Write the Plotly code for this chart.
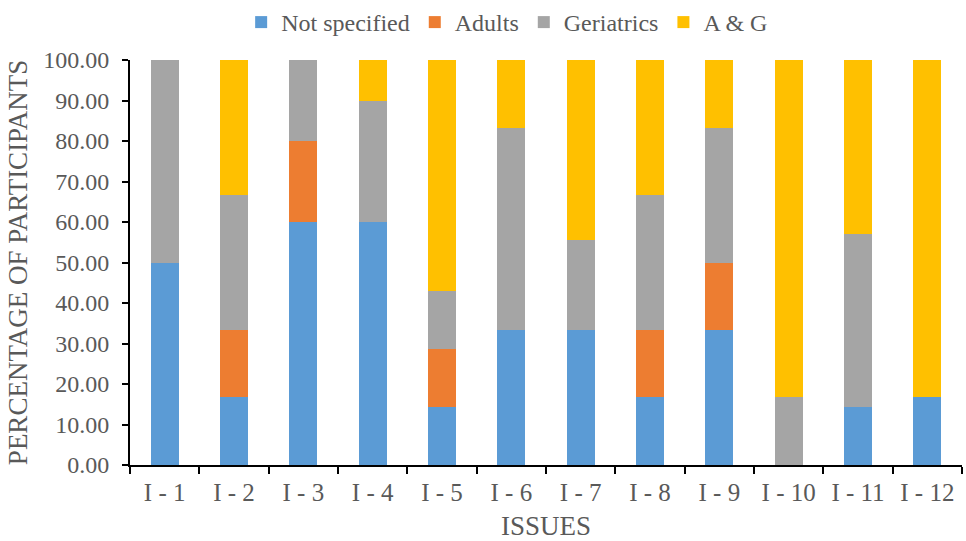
import plotly.graph_objects as go

categories = ["I - 1", "I - 2", "I - 3", "I - 4", "I - 5", "I - 6",
              "I - 7", "I - 8", "I - 9", "I - 10", "I - 11", "I - 12"]
not_specified = [50.00, 16.67, 60.00, 60.00, 14.29, 33.33, 33.33, 16.67, 33.33, 0.00, 14.29, 16.67]
adults = [0.00, 16.67, 20.00, 0.00, 14.29, 0.00, 0.00, 16.67, 16.67, 0.00, 0.00, 0.00]
geriatrics = [50.00, 33.33, 20.00, 30.00, 14.29, 50.00, 22.22, 33.33, 33.33, 16.67, 42.86, 0.00]
a_and_g = [0.00, 33.33, 0.00, 10.00, 57.14, 16.67, 44.44, 33.33, 16.67, 83.33, 42.86, 83.33]

series = [
    ("Not specified", not_specified, "#5B9BD5"),
    ("Adults", adults, "#ED7D31"),
    ("Geriatrics", geriatrics, "#A5A5A5"),
    ("A & G", a_and_g, "#FFC000"),
]

fig = go.Figure()
for name, vals, color in series:
    fig.add_trace(go.Bar(x=categories, y=vals, name=name, marker_color=color,
                         marker_line_width=0))

ff = "Liberation Serif"
txt = "#595959"
fig.update_layout(
    template="none",
    barmode="stack",
    bargap=0.6,
    width=966, height=541,
    margin=dict(l=130, r=4, t=60, b=76, autoexpand=False),
    paper_bgcolor="white", plot_bgcolor="white",
    font=dict(family=ff, color=txt, size=24),
    legend=dict(orientation="h", x=0.525, xref="container", xanchor="center",
                y=1.0, yref="container", yanchor="top",
                font=dict(family=ff, size=24, color=txt), itemwidth=30,
                traceorder="normal"),
    xaxis=dict(showline=True, linecolor="black", linewidth=2, ticks="outside",
               showgrid=False, zeroline=False,
               tickson="boundaries", ticklen=7, tickwidth=2, tickcolor="black",
               title=dict(text="ISSUES", font=dict(family=ff, size=27, color=txt), standoff=12),
               tickfont=dict(family=ff, size=25, color=txt), ticklabelstandoff=4),
    yaxis=dict(range=[0, 100], dtick=10, tickformat=".2f", showgrid=False, zeroline=False,
               showline=True, linecolor="black", linewidth=2, ticks="outside",
               ticklen=6, tickwidth=2, tickcolor="black",
               title=dict(text="PERCENTAGE OF PARTICIPANTS", font=dict(family=ff, size=27, color=txt),
                          standoff=8),
               tickfont=dict(family=ff, size=24, color=txt), ticklabelstandoff=8),
)

fig.write_html("out.html", config={"displayModeBar": False},
               post_script="document.body.style.margin='0';")
